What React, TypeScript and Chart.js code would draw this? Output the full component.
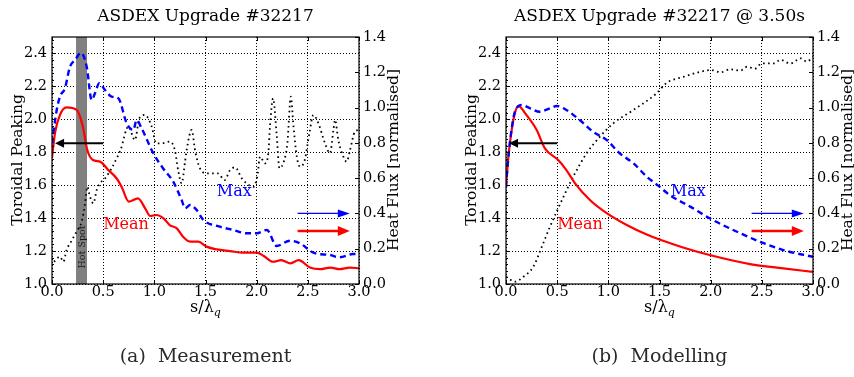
import { useEffect, useRef } from "react";
import { Chart, registerables } from "chart.js";

Chart.register(...registerables);

const SERIF = '"DejaVu Serif", serif';

// ---- (a) Measurement ----
const measMeanS = [0, 0.03, 0.08, 0.14, 0.24, 0.3, 0.345, 0.4, 0.47, 0.55, 0.63, 0.68, 0.75, 0.84, 0.91, 0.96, 1.02, 1.09, 1.15, 1.22, 1.28, 1.35, 1.43, 1.51, 1.61, 1.74, 1.87, 2.0, 2.07, 2.16, 2.24, 2.33, 2.41, 2.52, 2.62, 2.72, 2.81, 2.91, 3.0];
const measMeanV = [1.765, 1.92, 2.03, 2.073, 2.057, 1.96, 1.814, 1.753, 1.743, 1.692, 1.642, 1.591, 1.5, 1.52, 1.46, 1.413, 1.419, 1.399, 1.358, 1.338, 1.287, 1.257, 1.257, 1.227, 1.21, 1.2, 1.19, 1.19, 1.17, 1.135, 1.145, 1.125, 1.145, 1.1, 1.09, 1.1, 1.09, 1.1, 1.095];

const measMaxS = [0, 0.046, 0.078, 0.127, 0.176, 0.225, 0.283, 0.339, 0.388, 0.42, 0.462, 0.518, 0.583, 0.648, 0.73, 0.795, 0.827, 0.876, 0.99, 1.088, 1.186, 1.267, 1.3, 1.35, 1.414, 1.479, 1.64, 1.772, 1.9, 2.0, 2.1, 2.195, 2.326, 2.424, 2.554, 2.717, 2.81, 2.94, 3.0];
const measMaxV = [1.854, 2.057, 2.138, 2.19, 2.32, 2.36, 2.405, 2.32, 2.117, 2.158, 2.219, 2.178, 2.138, 2.128, 1.976, 1.935, 1.996, 1.945, 1.794, 1.7, 1.62, 1.51, 1.46, 1.48, 1.449, 1.389, 1.348, 1.328, 1.308, 1.308, 1.328, 1.231, 1.263, 1.247, 1.19, 1.176, 1.162, 1.182, 1.182];

const measFluxS = [0.02, 0.078, 0.111, 0.143, 0.192, 0.24, 0.29, 0.323, 0.345, 0.371, 0.404, 0.437, 0.469, 0.518, 0.583, 0.632, 0.67, 0.746, 0.811, 0.853, 0.909, 0.974, 1.02, 1.07, 1.153, 1.2, 1.235, 1.267, 1.3, 1.316, 1.365, 1.4, 1.446, 1.51, 1.62, 1.687, 1.74, 1.79, 1.854, 1.9, 1.97, 2.006, 2.033, 2.08, 2.114, 2.13, 2.16, 2.197, 2.222, 2.27, 2.3, 2.334, 2.36, 2.392, 2.424, 2.47, 2.515, 2.554, 2.603, 2.668, 2.717, 2.75, 2.766, 2.798, 2.847, 2.88, 2.912, 2.96, 3.0];
const measFluxV = [0.126, 0.155, 0.126, 0.193, 0.246, 0.297, 0.353, 0.457, 0.551, 0.495, 0.457, 0.533, 0.571, 0.599, 0.656, 0.712, 0.76, 0.892, 0.816, 0.939, 0.958, 0.892, 0.797, 0.797, 0.807, 0.76, 0.637, 0.571, 0.693, 0.76, 0.873, 0.75, 0.656, 0.627, 0.627, 0.589, 0.646, 0.661, 0.599, 0.571, 0.551, 0.608, 0.722, 0.684, 0.741, 0.892, 1.052, 0.835, 0.656, 0.703, 0.797, 1.062, 0.892, 0.722, 0.665, 0.703, 0.854, 0.958, 0.911, 0.797, 0.741, 0.873, 0.93, 0.816, 0.722, 0.693, 0.759, 0.863, 0.873];

// hot spot band [from, to] in s/lambda_q
const hotSpotBand = [0.235, 0.342];

// ---- (b) Modelling ----
const modMeanS = [0, 0.02, 0.042, 0.08, 0.12, 0.2, 0.3, 0.38, 0.51, 0.59, 0.675, 0.82, 0.984, 1.18, 1.375, 1.5, 1.73, 1.99, 2.385, 2.71, 3.0];
const modMeanV = [1.59, 1.75, 1.874, 2.02, 2.08, 2.026, 1.935, 1.824, 1.753, 1.692, 1.611, 1.51, 1.43, 1.358, 1.3, 1.27, 1.222, 1.176, 1.121, 1.095, 1.073];

const modMaxS = [0, 0.02, 0.042, 0.08, 0.12, 0.15, 0.235, 0.33, 0.43, 0.495, 0.59, 0.72, 0.85, 0.985, 1.11, 1.245, 1.375, 1.5, 1.6, 1.8, 1.99, 2.22, 2.48, 2.71, 3.0];
const modMaxV = [1.59, 1.75, 1.88, 2.03, 2.08, 2.087, 2.067, 2.046, 2.067, 2.081, 2.057, 1.996, 1.925, 1.874, 1.794, 1.733, 1.652, 1.591, 1.54, 1.47, 1.399, 1.328, 1.257, 1.206, 1.165];

const modFluxS = [0, 0.088, 0.17, 0.267, 0.35, 0.43, 0.51, 0.593, 0.674, 0.788, 0.918, 1.049, 1.244, 1.47, 1.57, 1.74, 1.9, 2.0, 2.1, 2.19, 2.29, 2.36, 2.43, 2.5, 2.62, 2.68, 2.78, 2.88, 2.94, 3.0];
const modFluxV = [0.041, 0.013, 0.041, 0.098, 0.211, 0.325, 0.429, 0.533, 0.627, 0.741, 0.835, 0.911, 0.986, 1.08, 1.14, 1.175, 1.203, 1.213, 1.2, 1.217, 1.21, 1.232, 1.22, 1.25, 1.25, 1.27, 1.25, 1.279, 1.26, 1.288];

// axis ranges and ticks
const xRange = [0, 3];
const peakRange = [1.0, 2.5];
const fluxRange = [0, 1.4];
const xStep = 0.5;
const yStep = 0.2;

// annotation anchors: [s, value]
const maxLabelAt = [1.61, 1.56];
const meanLabelAt = [0.5, 1.36];
// arrows: [from s, to s, value]
const peakArrow = [0.5, 0.03, 1.855];
const maxArrow = [2.4, 2.91, 0.4];
const meanArrow = [2.4, 2.91, 0.3];

type PanelCfg = {
  title: string;
  caption: string;
  meanS: number[];
  meanV: number[];
  maxS: number[];
  maxV: number[];
  fluxS: number[];
  fluxV: number[];
  band?: number[];
  leftW: number;
  rightW: number;
};

const panels: PanelCfg[] = [
  {
    title: "ASDEX Upgrade #32217",
    caption: "(a)  Measurement",
    meanS: measMeanS, meanV: measMeanV,
    maxS: measMaxS, maxV: measMaxV,
    fluxS: measFluxS, fluxV: measFluxV,
    band: hotSpotBand,
    leftW: 52, rightW: 68,
  },
  {
    title: "ASDEX Upgrade #32217 @ 3.50s",
    caption: "(b)  Modelling",
    meanS: modMeanS, meanV: modMeanV,
    maxS: modMaxS, maxV: modMaxV,
    fluxS: modFluxS, fluxV: modFluxV,
    leftW: 79, rightW: 41,
  },
];

const W = 427;
const H = 377;
const PLOT_TOP = 37;
const PLOT_BOTTOM = 284;

function pts(xs: number[], ys: number[]) {
  return xs.map((x, i) => ({ x, y: ys[i] }));
}

function arrow(ctx: CanvasRenderingContext2D, x1: number, x2: number, y: number, color: string, lw: number, headL: number, headW: number) {
  const dir = Math.sign(x2 - x1);
  ctx.save();
  ctx.strokeStyle = color;
  ctx.fillStyle = color;
  ctx.lineWidth = lw;
  ctx.beginPath();
  ctx.moveTo(x1, y);
  ctx.lineTo(x2 - dir * headL * 0.8, y);
  ctx.stroke();
  ctx.beginPath();
  ctx.moveTo(x2, y);
  ctx.lineTo(x2 - dir * headL, y - headW / 2);
  ctx.lineTo(x2 - dir * headL, y + headW / 2);
  ctx.closePath();
  ctx.fill();
  ctx.restore();
}

function makeDecor(cfg: PanelCfg) {
  return {
    id: "decor",
    beforeDatasetsDraw(chart: any) {
      if (!cfg.band) return;
      const { ctx, chartArea: a, scales } = chart;
      const x0 = scales.x.getPixelForValue(cfg.band[0]);
      const x1 = scales.x.getPixelForValue(cfg.band[1]);
      ctx.save();
      ctx.fillStyle = "#808080";
      ctx.fillRect(x0, a.top, x1 - x0, a.bottom - a.top);
      ctx.translate((x0 + x1) / 2 + 1, scales.y.getPixelForValue(1.225));
      ctx.rotate(-Math.PI / 2);
      ctx.fillStyle = "#1a1a1a";
      ctx.font = `9.5px ${SERIF}`;
      ctx.textAlign = "center";
      ctx.textBaseline = "middle";
      ctx.fillText("Hot Spot", 0, 0);
      ctx.restore();
    },
    afterDraw(chart: any) {
      const { ctx, chartArea: a, scales } = chart;
      const { x, y, y2 } = scales;
      ctx.save();

      // arrows
      arrow(ctx, x.getPixelForValue(peakArrow[0]), x.getPixelForValue(peakArrow[1]), y.getPixelForValue(peakArrow[2]), "#000", 2, 9, 9);
      arrow(ctx, x.getPixelForValue(maxArrow[0]), x.getPixelForValue(maxArrow[1]), y2.getPixelForValue(maxArrow[2]), "#0000ff", 1.3, 12, 8);
      arrow(ctx, x.getPixelForValue(meanArrow[0]), x.getPixelForValue(meanArrow[1]), y2.getPixelForValue(meanArrow[2]), "#ff0000", 2.4, 12, 10);

      // in-plot labels
      ctx.font = `16px ${SERIF}`;
      ctx.textAlign = "left";
      ctx.textBaseline = "middle";
      ctx.fillStyle = "#0000ff";
      ctx.fillText("Max", x.getPixelForValue(maxLabelAt[0]), y.getPixelForValue(maxLabelAt[1]));
      ctx.fillStyle = "#ff0000";
      ctx.fillText("Mean", x.getPixelForValue(meanLabelAt[0]), y.getPixelForValue(meanLabelAt[1]));

      // frame
      ctx.strokeStyle = "#000";
      ctx.lineWidth = 1.2;
      ctx.strokeRect(a.left, a.top, a.right - a.left, a.bottom - a.top);

      // inward tick marks
      ctx.lineWidth = 1;
      ctx.beginPath();
      for (let v = xRange[0]; v <= xRange[1] + 1e-9; v += xStep) {
        const px = Math.round(x.getPixelForValue(v)) + 0.5;
        ctx.moveTo(px, a.bottom); ctx.lineTo(px, a.bottom - 4);
        ctx.moveTo(px, a.top); ctx.lineTo(px, a.top + 4);
      }
      for (let v = peakRange[0]; v <= peakRange[1] + 1e-9; v += yStep / 5) {
        const py = Math.round(y.getPixelForValue(v)) + 0.5;
        const major = Math.abs((v - peakRange[0]) / yStep - Math.round((v - peakRange[0]) / yStep)) < 1e-6;
        ctx.moveTo(a.left, py); ctx.lineTo(a.left + (major ? 4 : 2), py);
      }
      for (let v = fluxRange[0]; v <= fluxRange[1] + 1e-9; v += yStep) {
        const py = Math.round(y2.getPixelForValue(v)) + 0.5;
        ctx.moveTo(a.right, py); ctx.lineTo(a.right - 4, py);
      }
      ctx.stroke();

      // title
      const cx = (a.left + a.right) / 2;
      ctx.fillStyle = "#000";
      ctx.textAlign = "center";
      ctx.textBaseline = "middle";
      ctx.font = `17px ${SERIF}`;
      ctx.fillText(cfg.title, cx, 17);

      // x axis title: s/lambda_q
      ctx.font = `16px ${SERIF}`;
      const main = "s/\u03bb";
      const wMain = ctx.measureText(main).width;
      ctx.font = `italic 11px ${SERIF}`;
      const wSub = ctx.measureText("q").width;
      const startX = cx - (wMain + wSub) / 2;
      ctx.textAlign = "left";
      ctx.textBaseline = "alphabetic";
      ctx.font = `16px ${SERIF}`;
      ctx.fillText(main, startX, 312);
      ctx.font = `italic 11px ${SERIF}`;
      ctx.fillText("q", startX + wMain, 316);

      // y axis titles
      ctx.font = `15.5px ${SERIF}`;
      ctx.textAlign = "center";
      ctx.textBaseline = "middle";
      ctx.save();
      ctx.translate(a.left - 34, 160);
      ctx.rotate(-Math.PI / 2);
      ctx.fillText("Toroidal Peaking", 0, 0);
      ctx.restore();
      ctx.save();
      ctx.translate(a.right + 35, 160);
      ctx.rotate(-Math.PI / 2);
      ctx.fillText("Heat Flux [normalised]", 0, 0);
      ctx.restore();

      // caption
      ctx.fillStyle = "#2a2a2a";
      ctx.font = `19px ${SERIF}`;
      ctx.fillText(cfg.caption, cx, 357);

      ctx.restore();
    },
  };
}

const tickFont = { family: SERIF, size: 14.5 };

function Panel({ cfg, left }: { cfg: PanelCfg; left: number }) {
  const ref = useRef<HTMLCanvasElement>(null);
  useEffect(() => {
    const chart = new Chart(ref.current!, {
      type: "line",
      data: {
        datasets: [
          {
            label: "Max",
            data: pts(cfg.maxS, cfg.maxV),
            yAxisID: "y",
            borderColor: "#0000ff",
            borderWidth: 2.4,
            borderDash: [6, 4],
            pointRadius: 0,
            cubicInterpolationMode: "monotone",
            fill: false,
          },
          {
            label: "Mean",
            data: pts(cfg.meanS, cfg.meanV),
            yAxisID: "y",
            borderColor: "#ff0000",
            borderWidth: 2.2,
            pointRadius: 0,
            cubicInterpolationMode: "monotone",
            fill: false,
          },
          {
            label: "Heat Flux",
            data: pts(cfg.fluxS, cfg.fluxV),
            yAxisID: "y2",
            borderColor: "#000",
            borderWidth: 1.8,
            borderDash: [1.6, 3.4],
            pointRadius: 0,
            cubicInterpolationMode: "monotone",
            fill: false,
          },
        ],
      },
      options: {
        animation: false,
        responsive: false,
        devicePixelRatio: 1,
        parsing: true,
        layout: { padding: { top: PLOT_TOP, left: 0, right: 0, bottom: 0 } },
        plugins: { legend: { display: false }, tooltip: { enabled: false }, title: { display: false } },
        scales: {
          x: {
            type: "linear",
            position: "bottom",
            min: xRange[0],
            max: xRange[1],
            ticks: {
              stepSize: xStep,
              includeBounds: false,
              maxRotation: 0,
              padding: 0,
              color: "#000",
              font: tickFont,
              callback: (v: any) => Number(v).toFixed(1),
            },
            grid: { color: "#000", lineWidth: 1, drawTicks: false },
            border: { display: false, dash: [1, 2] },
            afterFit: (s: any) => { s.height = H - PLOT_BOTTOM; },
          },
          y: {
            type: "linear",
            position: "left",
            min: peakRange[0],
            max: peakRange[1],
            ticks: {
              stepSize: yStep,
              includeBounds: false,
              padding: 5,
              color: "#000",
              font: tickFont,
              callback: (v: any) => Number(v).toFixed(1),
            },
            grid: { color: "#000", lineWidth: 1, drawTicks: false },
            border: { display: false, dash: [1, 2] },
            afterFit: (s: any) => { s.width = cfg.leftW; },
          },
          y2: {
            type: "linear",
            position: "right",
            min: fluxRange[0],
            max: fluxRange[1],
            ticks: {
              stepSize: yStep,
              padding: 4,
              color: "#000",
              font: tickFont,
              callback: (v: any) => Number(v).toFixed(1),
            },
            grid: { drawOnChartArea: false, drawTicks: false },
            border: { display: false },
            afterFit: (s: any) => { s.width = cfg.rightW; },
          },
        },
      } as any,
      plugins: [makeDecor(cfg)],
    });
    return () => chart.destroy();
  }, [cfg]);
  return (
    <canvas
      ref={ref}
      width={W}
      height={H}
      style={{ position: "absolute", left, top: 0, width: W, height: H }}
    />
  );
}

export default function App() {
  return (
    <div style={{ position: "fixed", left: 0, top: 0, width: 854, height: 377, background: "#fff", overflow: "hidden" }}>
      <Panel cfg={panels[0]} left={0} />
      <Panel cfg={panels[1]} left={427} />
    </div>
  );
}
